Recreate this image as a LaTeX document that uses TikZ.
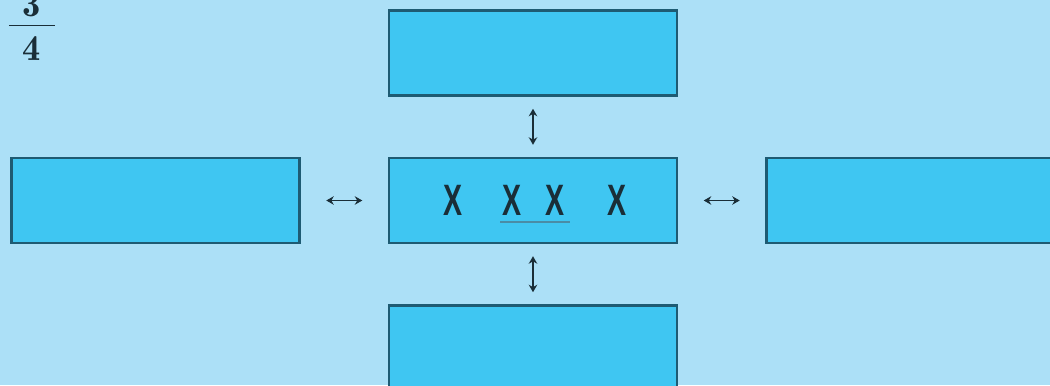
\documentclass[tikz,border=0pt]{standalone}
\usepackage{amsmath,amssymb}
\usepackage{fontspec}
\newfontfamily\xfont{Liberation Sans}
\usepackage{tikz}
\usetikzlibrary{arrows.meta, positioning, calc}
\usepackage{xcolor}
\definecolor{bgcol}{HTML}{ACE0F7}
\definecolor{boxfill}{HTML}{3FC6F2}
\definecolor{boxedge}{HTML}{1E5B73}
\definecolor{inkcol}{HTML}{1A2E38}
\definecolor{linecol}{HTML}{4A8CA6}
\tikzset{
  box/.style={rectangle, draw=boxedge, line width=1.4pt, fill=boxfill,
    minimum width=5.76cm, minimum height=1.7cm, inner sep=0pt},
  xmark/.style={inner sep=0pt, text=inkcol, font=\xfont\bfseries\fontsize{25}{25}\selectfont,
    xscale=0.65},
  biarr/.style={{Stealth[length=1.5mm, width=1.7mm]}-{Stealth[length=1.5mm, width=1.7mm]},
    line width=0.8pt, draw=inkcol},
}

\begin{document}
\begin{tikzpicture}
  \fill[bgcol] (0,0) rectangle (21,-7.7);
  \useasboundingbox (0,0) rectangle (21,-7.7);

  \node[box] (mid) at (10.66,-4.01) {};
  \node[box, above=1.2cm of mid] (top) {};
  \node[box, below=1.2cm of mid] (bottom) {};
  \node[box, left=1.74cm of mid] (left) {};
  \node[box, right=1.74cm of mid] (right) {};

  \node[xmark] (x1) at ($(mid.center)+(-1.6,0)$) {X};
  \node[xmark] (x2) at ($(mid.center)+(-0.42,0)$) {X};
  \node[xmark] (x3) at ($(mid.center)+(0.44,0)$) {X};
  \node[xmark] (x4) at ($(mid.center)+(1.68,0)$) {X};
  \draw[linecol, line width=1.2pt] ([xshift=-0.04cm, yshift=-0.12cm]x2.south west) -- ([xshift=0.1cm, yshift=-0.12cm]x3.south east);

  \node[text=inkcol, font=\huge] (half) at (0.64,-0.53) {$\mathbf{\frac{\hspace{8pt}\displaystyle 3\rule[-4pt]{0pt}{4pt}\hspace{8pt}}{\hspace{8pt}\displaystyle\rule{0pt}{19pt}4\hspace{8pt}}}$};

  \draw[biarr, shorten <=0.51cm, shorten >=0.51cm] (left) -- (mid);
  \draw[biarr, shorten <=0.51cm, shorten >=0.51cm] (mid) -- (right);
  \draw[biarr, shorten <=0.24cm, shorten >=0.24cm] (top) -- (mid);
  \draw[biarr, shorten <=0.24cm, shorten >=0.24cm] (mid) -- (bottom);
\end{tikzpicture}
\end{document}
